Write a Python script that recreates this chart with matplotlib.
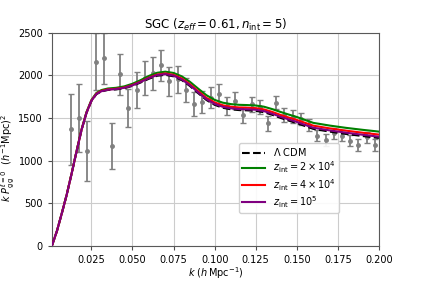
import numpy as np
import matplotlib
matplotlib.use("Agg")
import matplotlib.pyplot as plt

# ---- data ----
k_data = [0.0125, 0.0175, 0.0225, 0.0275, 0.0325, 0.0375, 0.0425, 0.0475,
          0.0525, 0.0575, 0.0625, 0.0675, 0.0725, 0.0775, 0.0825, 0.0875,
          0.0925, 0.0975, 0.1025, 0.1075, 0.1125, 0.1175, 0.1225, 0.1275,
          0.1325, 0.1375, 0.1425, 0.1475, 0.1525, 0.1575, 0.1625, 0.1675,
          0.1725, 0.1775, 0.1825, 0.1875, 0.1925, 0.1975]
kP_data = [1367, 1496, 1108, 2160, 2200, 1174, 2014, 1614,
           1826, 1967, 2026, 2120, 1930, 1955, 1829, 1665,
           1692, 1740, 1780, 1640, 1700, 1535, 1660, 1630,
           1437, 1680, 1535, 1515, 1488, 1418, 1292, 1241,
           1320, 1292, 1233, 1182, 1273, 1182]
kP_err = [420, 400, 355, 335, 300, 272, 242, 222,
          210, 198, 195, 185, 175, 160, 145, 140,
          130, 120, 115, 108, 100, 98, 90, 85,
          88, 80, 78, 75, 72, 70, 68, 72,
          62, 65, 68, 68, 68, 68]

k_model = [0.001, 0.004, 0.007, 0.010, 0.013, 0.016, 0.019, 0.022, 0.025,
           0.028, 0.031, 0.035, 0.040, 0.045, 0.050, 0.055, 0.060, 0.065,
           0.070, 0.075, 0.080, 0.085, 0.090, 0.095, 0.100, 0.105, 0.110,
           0.115, 0.120, 0.125, 0.130, 0.135, 0.140, 0.145, 0.150, 0.160,
           0.170, 0.180, 0.190, 0.200]
kP_lcdm = [0, 170, 380, 600, 850, 1110, 1360, 1560, 1700,
           1780, 1812, 1830, 1836, 1850, 1878, 1918, 1962, 1997,
           2008, 1990, 1946, 1876, 1792, 1712, 1655, 1620, 1602,
           1593, 1590, 1584, 1568, 1538, 1502, 1470, 1440, 1372,
           1340, 1312, 1288, 1265]
kP_z2e4 = [0, 170, 381, 602, 853, 1115, 1367, 1570, 1712,
           1794, 1828, 1847, 1855, 1872, 1903, 1946, 1995, 2032,
           2045, 2030, 1990, 1925, 1845, 1768, 1713, 1680, 1663,
           1655, 1652, 1647, 1633, 1605, 1572, 1541, 1512, 1443,
           1411, 1384, 1361, 1340]
kP_z4e4 = [0, 170, 380, 601, 851, 1112, 1363, 1564, 1705,
           1786, 1819, 1837, 1844, 1859, 1888, 1929, 1975, 2011,
           2024, 2007, 1965, 1897, 1815, 1737, 1683, 1649, 1632,
           1624, 1621, 1616, 1601, 1572, 1537, 1506, 1477, 1410,
           1378, 1351, 1327, 1305]
kP_z1e5 = [0, 170, 380, 600, 850, 1111, 1361, 1561, 1702,
           1782, 1814, 1833, 1840, 1855, 1884, 1925, 1970, 2005,
           2016, 1998, 1954, 1885, 1801, 1722, 1666, 1631, 1614,
           1605, 1602, 1597, 1581, 1551, 1515, 1484, 1454, 1386,
           1354, 1327, 1303, 1280]

x_ticks = [0.025, 0.050, 0.075, 0.100, 0.125, 0.150, 0.175, 0.200]
y_ticks = [0, 500, 1000, 1500, 2000, 2500]

# ---- figure ----
fig = plt.figure(figsize=(4.21, 2.81), dpi=100)
ax = fig.add_axes([0.1235, 0.1263, 0.7765, 0.7563])

ax.errorbar(k_data, kP_data, yerr=kP_err, fmt='o', color='gray', ms=2.5,
            elinewidth=1.3, capsize=2, capthick=1.0, zorder=2)

ax.plot(k_model, kP_lcdm, color='black', ls='--', lw=1.5,
        label=r'$\Lambda$ CDM', zorder=3)
ax.plot(k_model, kP_z2e4, color='green', lw=1.5,
        label=r'$z_{\rm int} = 2 \times 10^4$', zorder=3)
ax.plot(k_model, kP_z4e4, color='red', lw=1.5,
        label=r'$z_{\rm int} = 4 \times 10^4$', zorder=3)
ax.plot(k_model, kP_z1e5, color='purple', lw=1.5,
        label=r'$z_{\rm int} = 10^5$', zorder=3)

ax.set_xlim(0.001, 0.2)
ax.set_ylim(0, 2500)
ax.set_xticks(x_ticks)
ax.set_xticklabels([f"{t:.3f}" for t in x_ticks])
ax.set_yticks(y_ticks)
ax.tick_params(labelsize=7, length=3, color='0.3')
ax.grid(True, color='0.8', lw=0.8)
ax.set_axisbelow(True)
for s in ax.spines.values():
    s.set_color('0.35')

ax.set_xlabel(r'$k\ (h\,{\rm Mpc}^{-1})$', fontsize=7)
ax.xaxis.set_label_coords(0.5, -0.095)
ax.set_ylabel(r'$k\ P_{\rm gg}^{\ell=0}\ \ (h^{-1}{\rm Mpc})^2$', fontsize=7)
ax.yaxis.set_label_coords(-0.106, 0.41)
ax.set_title(r'SGC ($z_{eff} = 0.61, n_{\rm int} = 5$)', fontsize=8.5, pad=3)

ax.legend(loc='lower left', bbox_to_anchor=(0.572, 0.153), borderaxespad=0,
          fontsize=7, handlelength=2.3, handletextpad=0.8, borderpad=0.35,
          labelspacing=0.15, framealpha=0.9)

fig.savefig('out.png', dpi=100)
